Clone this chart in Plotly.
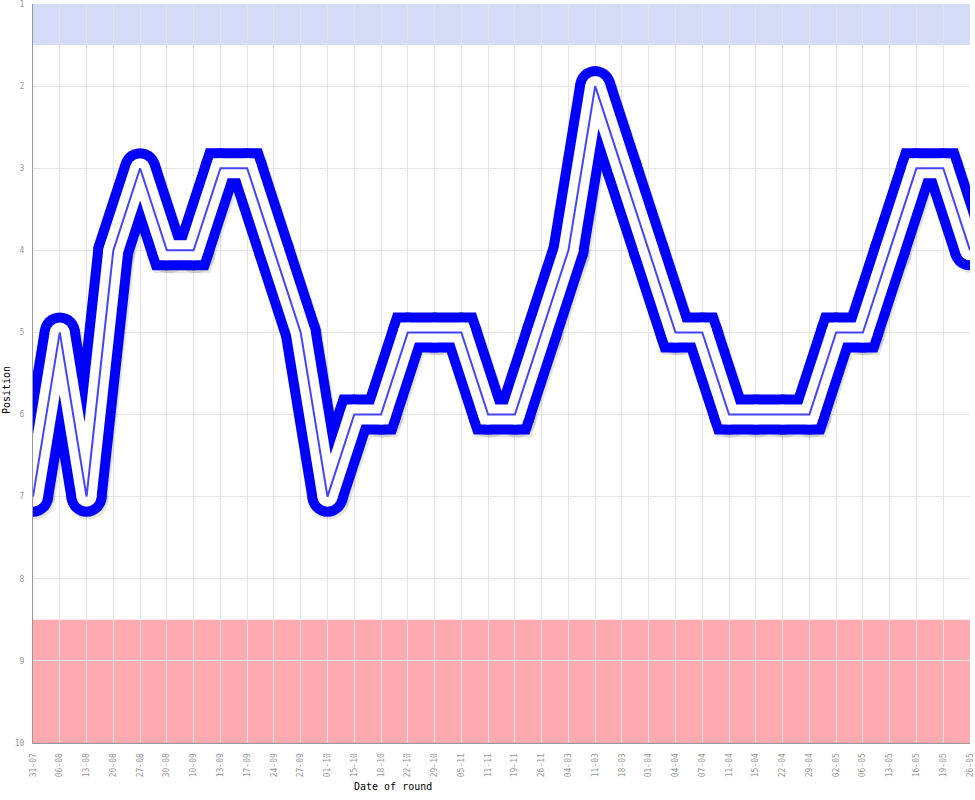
import plotly.graph_objects as go

dates = ["31-07", "06-08", "13-08", "20-08", "27-08", "30-08", "10-09", "13-09",
         "17-09", "24-09", "27-09", "01-10", "15-10", "18-10", "22-10", "29-10",
         "05-11", "11-11", "19-11", "26-11", "04-03", "11-03", "18-03", "01-04",
         "04-04", "07-04", "11-04", "15-04", "22-04", "29-04", "02-05", "06-05",
         "13-05", "16-05", "19-05", "26-05"]
positions = [7, 5, 7, 4, 3, 4, 4, 3, 3, 4, 5, 7, 6, 6, 5, 5, 5, 6, 6, 5, 4, 2,
             3, 4, 5, 5, 6, 6, 6, 6, 5, 5, 4, 3, 3, 4]
y_ticks = [1, 2, 3, 4, 5, 6, 7, 8, 9, 10]
top_zone = [1, 1.5]
bottom_zone = [8.5, 10]

mono = "DejaVu Sans Mono"
n = len(dates)
y_range = [10.0001, 0.9999]
fig = go.Figure()

# invisible anchor trace on the base axes (grid, ticks and zones live there)
fig.add_trace(go.Scatter(
    x=dates, y=positions, mode="lines", line=dict(width=0, color="rgba(0,0,0,0)"),
    hoverinfo="skip", showlegend=False))

# soft drop shadow on a slightly shifted overlay axis pair
shadow = "rgba(0,0,0,0.10)"
fig.add_trace(go.Scatter(
    x=dates, y=positions, mode="lines+markers", xaxis="x2", yaxis="y2",
    line=dict(color=shadow, width=40),
    marker=dict(color=shadow, size=40, line=dict(width=0)),
    hoverinfo="skip", showlegend=False))

# main line on an unshifted overlay above the shadow
fig.add_trace(go.Scatter(
    x=dates, y=positions, mode="lines+markers", xaxis="x3", yaxis="y3",
    line=dict(color="#0000ff", width=40),
    marker=dict(color="#0000ff", size=40, line=dict(width=0)),
    hoverinfo="skip", showlegend=False))
fig.add_trace(go.Scatter(
    x=dates, y=positions, mode="lines+markers", xaxis="x3", yaxis="y3",
    line=dict(color="#ffffff", width=20),
    marker=dict(color="#ffffff", size=20, line=dict(width=0)),
    hoverinfo="skip", showlegend=False))
fig.add_trace(go.Scatter(
    x=dates, y=positions, mode="lines", xaxis="x3", yaxis="y3",
    line=dict(color="#4444ff", width=2),
    showlegend=False))

fig.add_shape(type="rect", xref="paper", x0=0, x1=1, yref="y",
              y0=top_zone[0], y1=top_zone[1], fillcolor="#d4dcf8",
              line=dict(width=0), layer="below")
fig.add_shape(type="rect", xref="paper", x0=0, x1=1, yref="y",
              y0=bottom_zone[0], y1=bottom_zone[1], fillcolor="#ffaab0",
              line=dict(width=0), layer="below")

fig.add_annotation(text="Date of round", xref="paper", yref="paper",
                   x=0.384, y=-0.0595, xanchor="center", yanchor="middle",
                   showarrow=False,
                   font=dict(family=mono, size=10, color="#000000"))
fig.add_annotation(text="Position", xref="paper", yref="paper",
                   x=-0.0277, y=0.4777, xanchor="center", yanchor="middle",
                   showarrow=False, textangle=-90,
                   font=dict(family=mono, size=10, color="#000000"))

overlay_x = dict(type="category", overlaying="x", visible=False,
                 categoryarray=dates, categoryorder="array")
fig.update_layout(
    width=975, height=800,
    margin=dict(l=33, r=5, t=4, b=57),
    plot_bgcolor="#ffffff", paper_bgcolor="#ffffff",
    xaxis=dict(type="category", range=[0, n - 1], automargin=False,
               categoryarray=dates, categoryorder="array",
               tickangle=-90, tickfont=dict(family=mono, size=8, color="#999999"),
               showgrid=True, gridcolor="#e4e4e4", gridwidth=1,
               showline=True, linecolor="#999999", linewidth=1,
               zeroline=False, ticks="outside", ticklen=6,
               tickcolor="rgba(0,0,0,0)"),
    yaxis=dict(range=y_range, tickvals=y_ticks, automargin=False,
               ticklabeloverflow="allow",
               tickfont=dict(family=mono, size=8, color="#999999"),
               showgrid=True, gridcolor="#e4e4e4", gridwidth=1,
               showline=True, linecolor="#999999", linewidth=1,
               zeroline=False, ticks="outside", ticklen=6,
               tickcolor="rgba(0,0,0,0)"),
    xaxis2=dict(overlay_x, range=[-0.07, n - 1 - 0.07]),
    yaxis2=dict(overlaying="y", visible=False,
                range=[y_range[0] - 0.035, y_range[1] - 0.035]),
    xaxis3=dict(overlay_x, range=[0, n - 1]),
    yaxis3=dict(overlaying="y", visible=False, range=y_range),
)

fig.write_html("out.html", config={"displayModeBar": False},
               post_script="document.body.style.margin='0';")
